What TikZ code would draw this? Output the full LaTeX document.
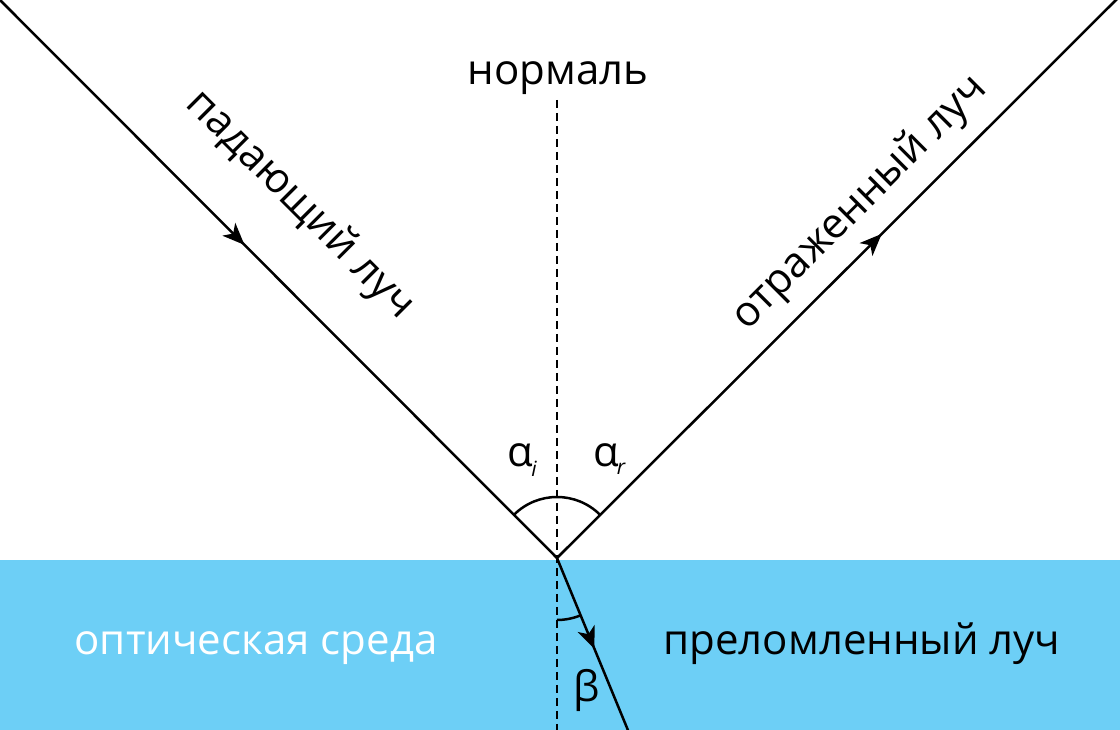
\documentclass[tikz,border=0pt]{standalone}
\usepackage{fontspec}
\setmainfont{Open Sans}
\usetikzlibrary{arrows.meta,decorations.markings}
\definecolor{medium}{RGB}{109,207,246}

\begin{document}
\begin{tikzpicture}[x=1pt,y=1pt,
    ray/.style={line width=2.5pt,postaction={decorate},
      decoration={markings,mark=at position #1 with {\arrow{Stealth[length=22pt,width=18pt,inset=6pt]}}}},
    normal/.style={line width=2.6pt,dash pattern=on 8pt off 5pt},
    txt/.style={font=\fontsize{42}{50}\selectfont,inner sep=0pt},
    sub/.style={font=\fontsize{21}{25}\selectfont\itshape,inner sep=0pt}]
    \clip (0,0) rectangle (1120,730);
    \fill[medium] (0,0) rectangle (1120,170);
    \coordinate (O) at (557,172);
    \coordinate (src) at (-1,731);
    \coordinate (dst) at (1117,731);
    \coordinate (ref) at (632,-10);
    \coordinate (ntop) at (557,630);
    \coordinate (nbot) at (557,0);
    \draw[normal] (ntop) -- (nbot);
    \draw[ray=0.44] (src) -- (O);
    \draw[ray=0.58] (O) -- (dst);
    \draw[ray=0.5] (O) -- (ref);
    \draw[line width=2.5pt] (O) ++(135:61) arc[start angle=135,end angle=45,radius=61];
    \draw[line width=2.5pt] (O) ++(-90:62) arc[start angle=-90,end angle=-67.6,radius=62];
    \node[txt,anchor=base] (norm) at (558,645) {нормаль};
    \node[txt,rotate=-45] (inc) at (300,525) {падающий луч};
    \node[txt,rotate=45] (refl) at (860,527) {отраженный луч};
    \node[txt,anchor=base,white] (med) at (256,75) {оптическая среда};
    \node[txt,anchor=base] (refr) at (862,75) {преломленный луч};
    \node[txt] (ai) at (520,275) {α};
    \node[sub] (i) at (534,261) {i};
    \node[txt] (ar) at (606,275) {α};
    \node[sub] (r) at (621,261) {r};
    \node[txt] (beta) at (587,40) {β};
\end{tikzpicture}
\end{document}
